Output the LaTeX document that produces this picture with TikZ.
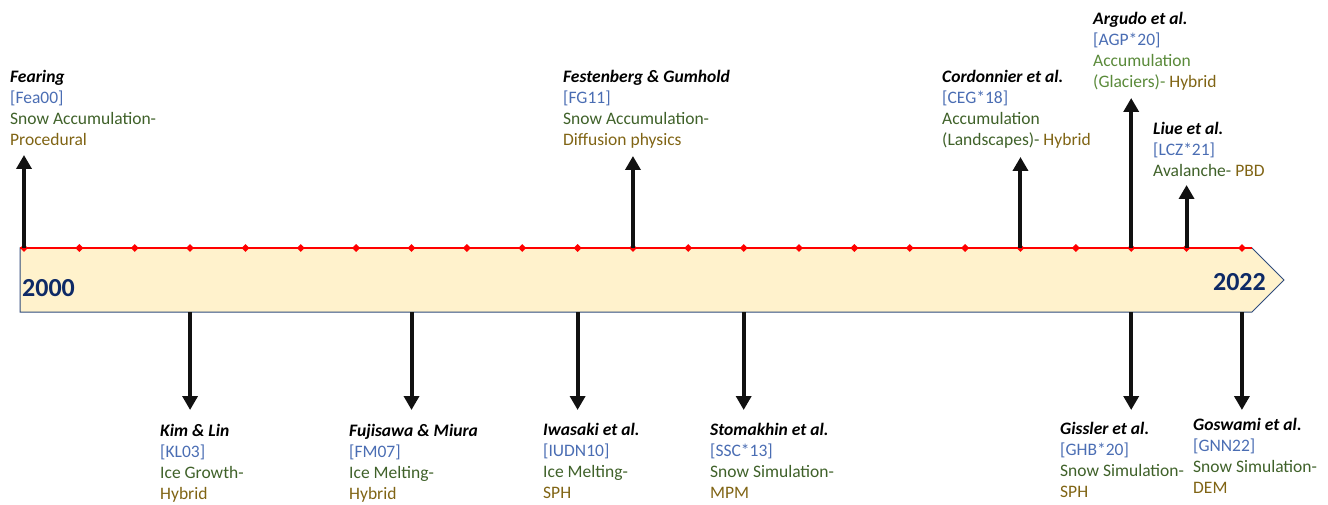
\documentclass[tikz,border=0pt]{standalone}
\usepackage{fontspec}
\setmainfont{Carlito}
\usetikzlibrary{arrows.meta,shapes.geometric}
\definecolor{bandfill}{HTML}{FFF2CC}
\definecolor{bandline}{HTML}{2F4B7C}
\definecolor{refblue}{HTML}{4A6DB3}
\definecolor{dgreen}{HTML}{3F6129}
\definecolor{lgreen}{HTML}{5A8A3A}
\definecolor{gold}{HTML}{806414}
\definecolor{yearblue}{HTML}{0E2A66}
\definecolor{arrowblack}{HTML}{111111}
\newcommand{\evnm}[1]{\hbox{\bfseries\itshape\color{black}#1}}
\newcommand{\evrf}[1]{\hbox{\color{refblue}#1}}
\newcommand{\evln}[1]{\hbox{#1}}
\newcommand{\evgr}[1]{{\color{dgreen}#1}}
\newcommand{\evlg}[1]{{\color{lgreen}#1}}
\newcommand{\evgd}[1]{{\color{gold}#1}}
\begin{document}
\begin{tikzpicture}[x=1pt,y=-1pt,
  txt/.style={anchor=base west,inner sep=0pt,font=\fontsize{17.5}{21}\selectfont},
  yr/.style={inner sep=0pt,font=\fontsize{26}{30}\selectfont\bfseries,text=yearblue},
  evarrow/.style={draw=arrowblack,line width=4pt,-{Triangle[width=15pt,length=14pt]}},
  tick/.style={diamond,fill=red,inner sep=0pt,minimum width=8pt,minimum height=8pt}]
\useasboundingbox (0,0) rectangle (1328,505);
% band
\path[fill=bandfill,draw=bandline,line width=1pt] (20,248) -- (1252,248) -- (1284,280) -- (1252,312) -- (20,312) -- cycle;
\draw[red,line width=1.2pt] (20,248) -- (1252,248);
\foreach \i in {0,...,22} {
  \node[tick] (t\i) at ({24+\i*55.36},248) {};
}
\node[yr,anchor=west] (y2000) at (22,288) {2000};
\node[yr,anchor=east] (y2022) at (1266,282) {2022};
% end coordinates
\coordinate (eFea) at (24,155);
\coordinate (eFG) at ({24+11*55.36},156);
\coordinate (eCEG) at ({24+18*55.36},157);
\coordinate (eAGP) at ({24+20*55.36},98);
\coordinate (eLCZ) at ({24+21*55.36},185);
\coordinate (sKL) at ({24+3*55.36},312);
\coordinate (sFM) at ({24+7*55.36},312);
\coordinate (sIU) at ({24+10*55.36},312);
\coordinate (sSSC) at ({24+13*55.36},312);
\coordinate (sGHB) at ({24+20*55.36},312);
\coordinate (sGNN) at ({24+22*55.36},312);
\coordinate (eKL) at ({24+3*55.36},410);
\coordinate (eFM) at ({24+7*55.36},410);
\coordinate (eIU) at ({24+10*55.36},410);
\coordinate (eSSC) at ({24+13*55.36},410);
\coordinate (eGHB) at ({24+20*55.36},410);
\coordinate (eGNN) at ({24+22*55.36},410);
% arrows
\draw[evarrow] (t0.center) -- (eFea);
\draw[evarrow] (t11.center) -- (eFG);
\draw[evarrow] (t18.center) -- (eCEG);
\draw[evarrow] (t20.center) -- (eAGP);
\draw[evarrow] (t21.center) -- (eLCZ);
\draw[evarrow] (sKL) -- (eKL);
\draw[evarrow] (sFM) -- (eFM);
\draw[evarrow] (sIU) -- (eIU);
\draw[evarrow] (sSSC) -- (eSSC);
\draw[evarrow] (sGHB) -- (eGHB);
\draw[evarrow] (sGNN) -- (eGNN);
% texts above
\node[txt] (Fea) at (10,83) {\vtop{\baselineskip=21pt\evnm{Fearing}\evrf{[Fea00]}\evln{\evgr{Snow Accumulation-}}\evln{\evgd{Procedural}}}};
\node[txt] (FG) at (563,83) {\vtop{\baselineskip=21pt\evnm{Festenberg \& Gumhold}\evrf{[FG11]}\evln{\evgr{Snow Accumulation-}}\evln{\evgd{Diffusion physics}}}};
\node[txt] (CEG) at (942,83) {\vtop{\baselineskip=21pt\evnm{Cordonnier et al.}\evrf{[CEG*18]}\evln{\evgr{Accumulation}}\evln{\evgr{(Landscapes)-} \evgd{Hybrid}}}};
\node[txt] (AGP) at (1093,25) {\vtop{\baselineskip=21pt\evnm{Argudo et al.}\evrf{[AGP*20]}\evln{\evlg{Accumulation}}\evln{\evlg{(Glaciers)-} \evgd{Hybrid}}}};
\node[txt] (LCZ) at (1153,135) {\vtop{\baselineskip=21pt\evnm{Liue et al.}\evrf{[LCZ*21]}\evln{\evgr{Avalanche-} \evgd{PBD}}}};
% texts below
\node[txt] (KL) at (160,436) {\vtop{\baselineskip=21pt\evnm{Kim \& Lin}\evrf{[KL03]}\evln{\evgr{Ice Growth-}}\evln{\evgd{Hybrid}}}};
\node[txt] (FM) at (349,436) {\vtop{\baselineskip=21pt\evnm{Fujisawa \& Miura}\evrf{[FM07]}\evln{\evgr{Ice Melting-}}\evln{\evgd{Hybrid}}}};
\node[txt] (IU) at (543,435) {\vtop{\baselineskip=21pt\evnm{Iwasaki et al.}\evrf{[IUDN10]}\evln{\evgr{Ice Melting-}}\evln{\evgd{SPH}}}};
\node[txt] (SSC) at (710,435) {\vtop{\baselineskip=21pt\evnm{Stomakhin et al.}\evrf{[SSC*13]}\evln{\evgr{Snow Simulation-}}\evln{\evgd{MPM}}}};
\node[txt] (GHB) at (1060,434) {\vtop{\baselineskip=21pt\evnm{Gissler et al.}\evrf{[GHB*20]}\evln{\evgr{Snow Simulation-}}\evln{\evgd{SPH}}}};
\node[txt] (GNN) at (1193,430) {\vtop{\baselineskip=21pt\evnm{Goswami et al.}\evrf{[GNN22]}\evln{\evgr{Snow Simulation-}}\evln{\evgd{DEM}}}};
\end{tikzpicture}
\end{document}
